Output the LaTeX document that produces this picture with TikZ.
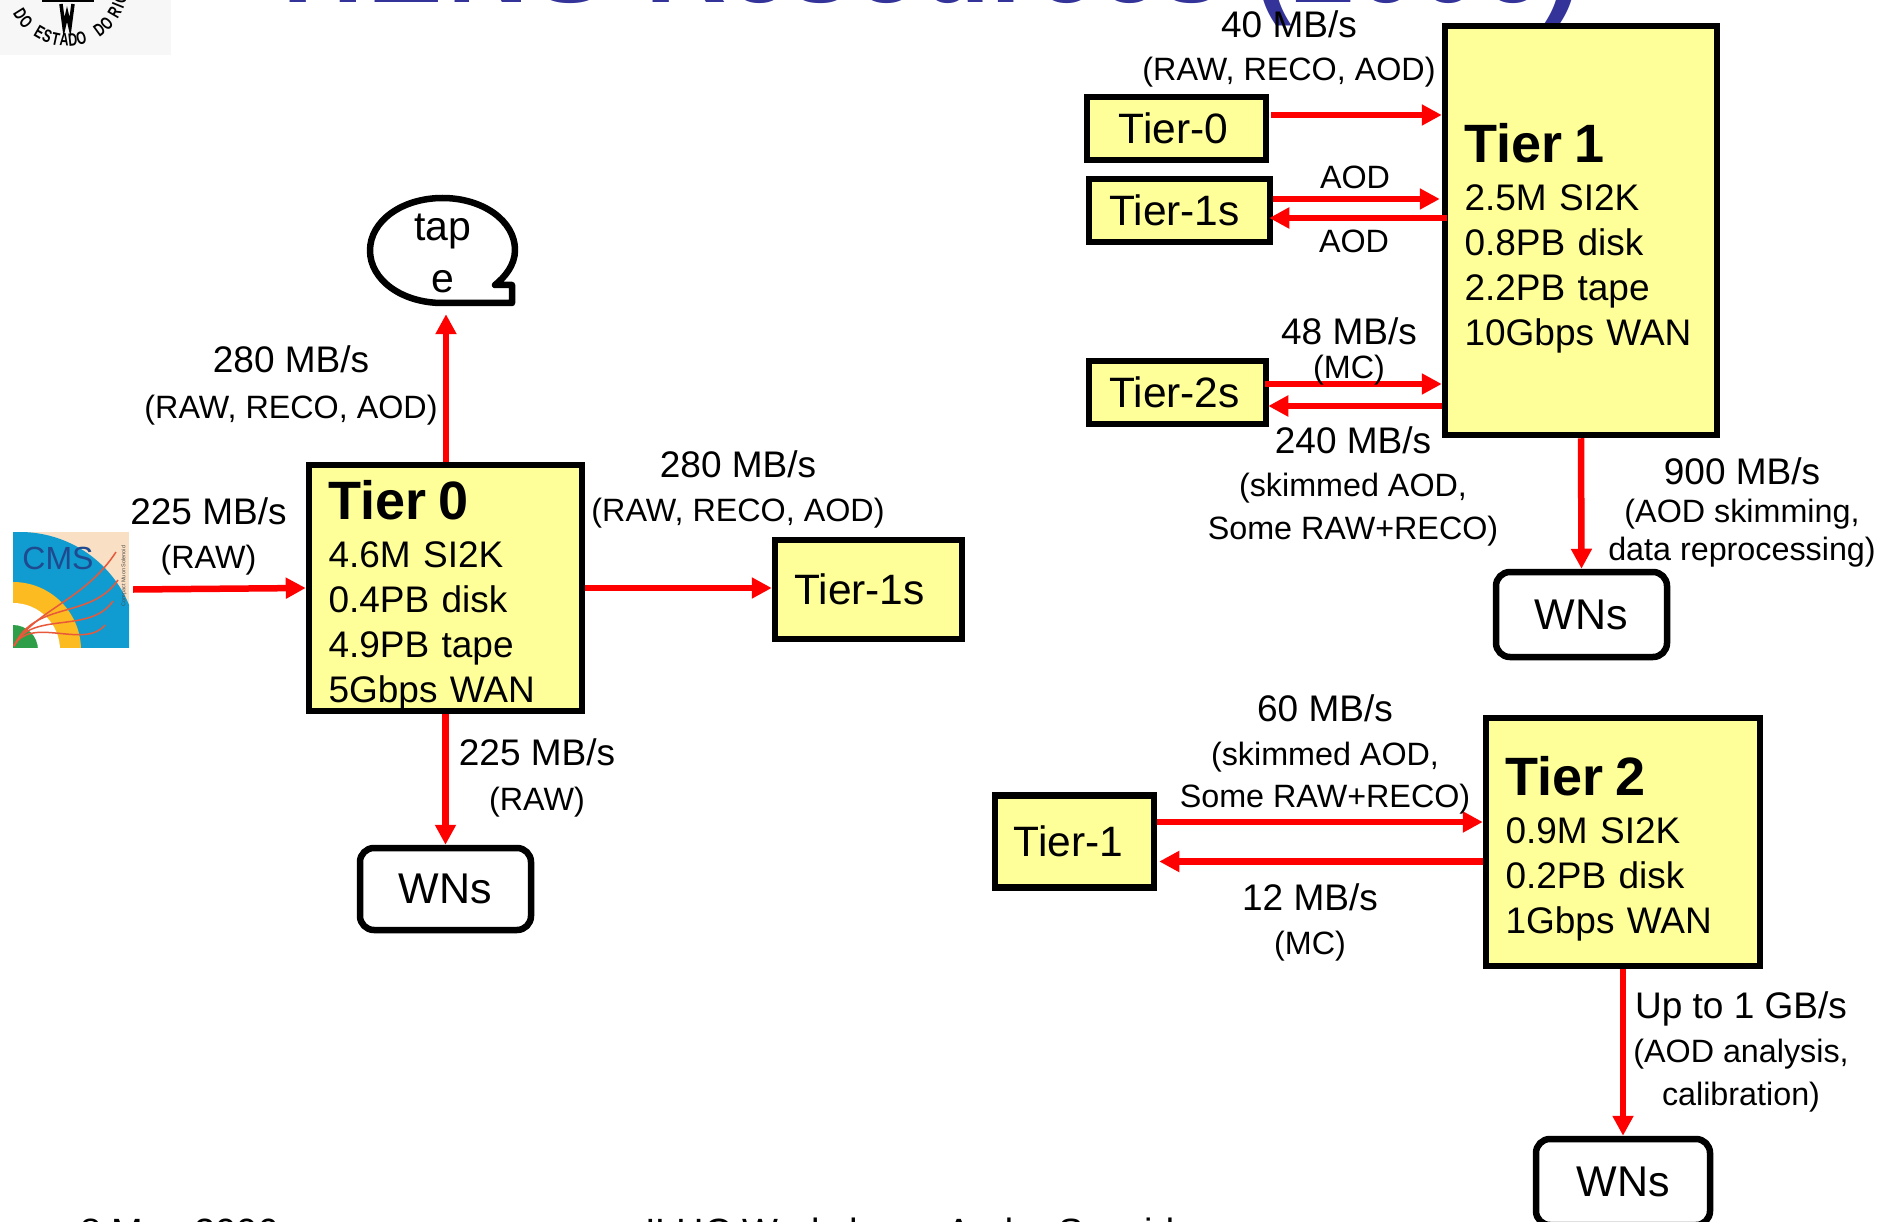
\documentclass[tikz,border=0pt]{standalone}
\usepackage{fontspec}
\setmainfont{Liberation Sans}
\usetikzlibrary{arrows.meta}
\definecolor{boxyellow}{HTML}{FFFF99}
\definecolor{titleblue}{HTML}{333399}
\definecolor{flowred}{HTML}{FF0000}
\definecolor{cmsblue}{HTML}{109CD0}
\definecolor{cmspeach}{HTML}{F9DFC4}
\definecolor{cmsorange}{HTML}{FDBB22}
\definecolor{cmsgreen}{HTML}{2E9E48}
\definecolor{cmstrack}{HTML}{E8583A}
\definecolor{cmstext}{HTML}{1F4A8F}
\tikzset{
  bigbox/.style={draw=black,line width=6.5pt,fill=boxyellow,minimum width=#1,inner xsep=19.5pt,inner ysep=0pt,align=left,text width=#1-39pt,font=\fontsize{37}{45}\selectfont},
  tierbox/.style={draw=black,line width=6.5pt,fill=boxyellow,font=\fontsize{42.5}{42.5}\selectfont,inner sep=0pt,line join=miter},
  wnbox/.style={draw=black,line width=6.5pt,fill=white,rounded corners=14pt,font=\fontsize{43}{43}\selectfont,inner sep=0pt},
  flow/.style={draw=flowred,line width=6.5pt,-{Triangle[length=20pt,width=20pt]}},
  rate/.style={anchor=base,inner sep=0pt,font=\fontsize{37}{37}\selectfont},
  note/.style={anchor=base,inner sep=0pt,font=\fontsize{32.3}{32.3}\selectfont},
}
\newcommand{\tiertitle}[1]{{\fontsize{54}{54}\selectfont\bfseries #1}}
\newcommand{\wntext}{\raisebox{-2pt}{WNs}}
\begin{document}
\begin{tikzpicture}[x=1pt,y=-1pt]
\useasboundingbox (0,0) rectangle (1879,1222);
\clip (0,0) rectangle (1879,1222);
\fill[white] (0,0) rectangle (1879,1222);
% clipped slide title and footer
\node[anchor=base west,inner sep=0pt,text=titleblue,font=\fontsize{113}{113}\selectfont\bfseries] (title) at (282,3) {H\kern4pt E\kern4pt N\kern4pt S\kern6pt{} Resources (2006)};
\node[anchor=base west,inner sep=0pt,font=\fontsize{38}{38}\selectfont] (date) at (80,1245) {8 May 2006};
\node[anchor=base west,inner sep=0pt,font=\fontsize{38}{38}\selectfont] (foot) at (645,1245) {ILHC Workshop - Andre Sznajder};
% seal
\fill[black!3] (0,0) rectangle (171,55);
\foreach \c/\a [count=\i] in {D/58,O/48,E/30,S/21,T/12,A/3,D/-6,O/-15,D/-36,O/-46,R/-60,I/-68,O/-76}
  \node[rotate=-\a,xscale=.7,inner sep=0pt,font=\fontsize{18}{18}\selectfont\bfseries] (seal\i) at ({67-55*sin(\a)},{-15+55*cos(\a)}) {\c};
\draw[line width=3.5pt,line join=miter] (61,4) -- (64,27) -- (67,14) -- (70,27) -- (73,4);
\fill (42,0) rectangle (94,2);
% CMS logo
\begin{scope}
\clip (13,532) rectangle (129,647);
\fill[cmspeach] (13,532) rectangle (129,647);
\fill[cmsblue] (20,650) circle[radius=118pt];
\fill[cmsorange] (13,650) circle[radius=68pt];
\fill[white] (13,650) circle[radius=47pt];
\fill[cmsgreen] (13,650) circle[radius=25pt];
\draw[cmstrack,line width=1.5pt] (14,646) .. controls (35,610) and (85,600) .. (116,552);
\draw[cmstrack,line width=1.5pt] (14,646) .. controls (35,600) and (90,620) .. (118,580);
\draw[cmstrack,line width=1.5pt] (14,646) .. controls (30,610) and (90,635) .. (113,601);
\draw[cmstrack,line width=1.5pt] (14,646) .. controls (30,615) and (85,650) .. (105,625);
\end{scope}
\node[inner sep=0pt,text=cmstext,font=\fontsize{32}{32}\selectfont] (cmsname) at (58,558) {CMS};
\node[inner sep=0pt,rotate=90,text=black!70,font=\fontsize{5.5}{5.5}\selectfont] (cmssub) at (124,576) {Compact Muon Solenoid};
\node[draw=none,inner sep=0pt,minimum width=116pt,minimum height=115pt] (cms) at (71,589.5) {};
% tape
\draw[line width=6.5pt,fill=white,line join=round] (495,285) .. controls (505,277) and (515,265) .. (515,250) .. controls (515,221) and (483,198) .. (442.5,198) .. controls (402,198) and (370,221) .. (370,250.5) .. controls (370,280) and (402,303) .. (442.5,303) -- (512,303) -- (512,285) -- cycle;
\node[inner sep=0pt,minimum width=145pt,minimum height=108pt,align=center,font=\fontsize{41}{52}\selectfont] (tape) at (443,253) {tap\\e};
% boxes
\node[bigbox=273pt,minimum height=246pt] (Tzero) at (445.5,588) {\rule{0pt}{54pt}\tiertitle{Tier 0}\\[3.5pt]4.6M SI2K\\0.4PB disk\\4.9PB tape\\5Gbps WAN};
\node[tierbox,minimum width=187pt,minimum height=99pt] (OneA) at (868.5,589.5) {Tier-1s\hspace*{18pt}};
\node[wnbox,minimum width=171pt,minimum height=82pt] (WNa) at (445.5,889) {\wntext};
\node[bigbox=272pt,minimum height=409pt] (Tone) at (1581,230.5) {\rule{0pt}{55pt}\tiertitle{Tier 1}\\[3.5pt]2.5M SI2K\\0.8PB disk\\2.2PB tape\\10Gbps WAN};
\node[tierbox,minimum width=179pt,minimum height=63pt] (TzeroB) at (1176.5,128.5) {Tier-0\hspace*{6pt}};
\node[tierbox,minimum width=181pt,minimum height=63pt] (OneB) at (1179.5,210.5) {Tier-1s\hspace*{10pt}};
\node[tierbox,minimum width=177pt,minimum height=63pt] (TwoB) at (1177.5,392.5) {Tier-2s\hspace*{6pt}};
\node[wnbox,minimum width=171pt,minimum height=85pt] (WNb) at (1581.5,614.5) {\wntext};
\node[bigbox=274pt,minimum height=248pt] (Ttwo) at (1623,842) {\rule{0pt}{53pt}\tiertitle{Tier 2}\\[3.5pt]0.9M SI2K\\0.2PB disk\\1Gbps WAN};
\node[tierbox,minimum width=159pt,minimum height=92pt] (OneC) at (1074.5,841.5) {Tier-1\hspace*{12pt}};
\node[wnbox,minimum width=174pt,minimum height=86pt] (WNc) at (1623,1182) {\wntext};
% connectors
\draw[flow] ([xshift=4pt]cms.east) -- ([yshift=0pt]Tzero.west);
\draw[flow] ([xshift=.5pt]Tzero.north) -- ([xshift=3pt,yshift=-7pt]tape.south);
\draw[flow] (Tzero.east) -- ([yshift=1.5pt]OneA.west);
\draw[flow] (Tzero.south) -- (WNa.north);
\draw[flow] ([xshift=2pt,yshift=13.5pt]TzeroB.east) -- ([yshift=115.5pt]Tone.west);
\draw[flow] ([yshift=11.5pt]OneB.east) -- ([xshift=-2pt,yshift=31.5pt]Tone.west);
\draw[flow] ([xshift=5pt,yshift=12.5pt]Tone.west) -- ([xshift=-4pt,yshift=-7.5pt]OneB.east);
\draw[flow] ([xshift=-4pt,yshift=8.5pt]TwoB.east) -- ([yshift=-153.5pt]Tone.west);
\draw[flow] ([yshift=-175.5pt]Tone.west) -- ([xshift=-1pt,yshift=-13.5pt]TwoB.east);
\draw[flow] (Tone.south) -- (WNb.north);
\draw[flow] ([yshift=19.5pt]OneC.east) -- ([yshift=20pt]Ttwo.west);
\draw[flow] ([yshift=-19.5pt]Ttwo.west) -- ([xshift=2pt,yshift=-20pt]OneC.east);
\draw[flow] (Ttwo.south) -- (WNc.north);
% labels
\node[rate] (l01) at (208.5,524) {225 MB/s};
\node[note] (l02) at (208.5,568) {(RAW)};
\node[rate] (l03) at (291,373) {280 MB/s};
\node[note] (l04) at (291,418) {(RAW, RECO, AOD)};
\node[rate] (l05) at (738,477) {280 MB/s};
\node[note] (l06) at (738,521) {(RAW, RECO, AOD)};
\node[rate] (l07) at (537,765) {225 MB/s};
\node[note] (l08) at (537,810) {(RAW)};
\node[rate] (l09) at (1289,38) {40 MB/s};
\node[note] (l10) at (1289,81) {(RAW, RECO, AOD)};
\node[note] (l11) at (1355,189) {AOD};
\node[note] (l12) at (1354,253) {AOD};
\node[rate] (l13) at (1349,345) {48 MB/s};
\node[note] (l14) at (1349,379) {(MC)};
\node[rate] (l15) at (1353,453) {240 MB/s};
\node[note] (l16) at (1353,496) {(skimmed AOD,};
\node[note] (l17) at (1353,539) {Some RAW+RECO)};
\node[rate] (l18) at (1742,484) {900 MB/s};
\node[note] (l19) at (1742,522) {(AOD skimming,};
\node[note] (l20) at (1742,560) {data reprocessing)};
\node[rate] (l21) at (1325,721) {60 MB/s};
\node[note] (l22) at (1325,765) {(skimmed AOD,};
\node[note] (l23) at (1325,807) {Some RAW+RECO)};
\node[rate] (l24) at (1310,910) {12 MB/s};
\node[note] (l25) at (1310,954) {(MC)};
\node[rate] (l26) at (1741,1018) {Up to 1 GB/s};
\node[note] (l27) at (1741,1062) {(AOD analysis,};
\node[note] (l28) at (1741,1105) {calibration)};
\end{tikzpicture}
\end{document}
